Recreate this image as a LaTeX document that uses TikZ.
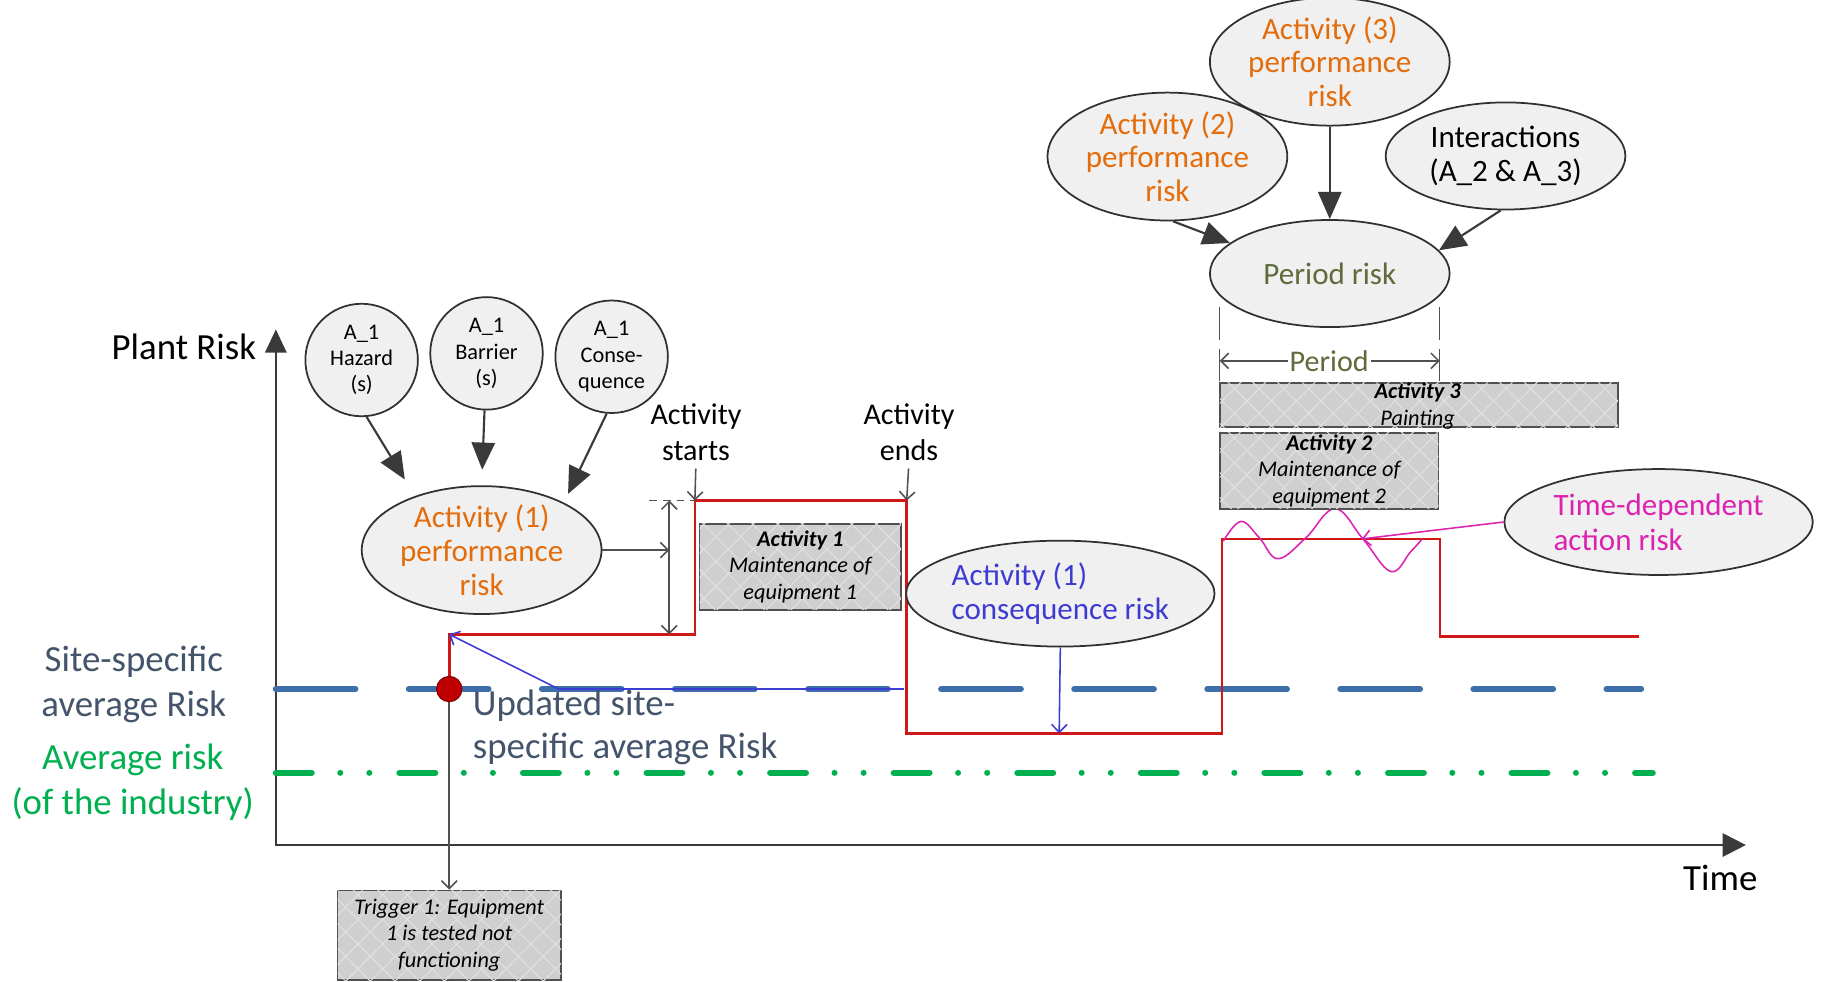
\documentclass[tikz,border=0pt]{standalone}
\usepackage{fontspec}
\setmainfont{Carlito}
\usetikzlibrary{arrows.meta,shapes.geometric,patterns.meta}
\definecolor{axisgray}{HTML}{3A3A3A}
\definecolor{edgegray}{HTML}{303030}
\definecolor{ellfill}{HTML}{F0F0F0}
\definecolor{boxgray}{HTML}{CFCFCF}
\definecolor{hatchc}{HTML}{E2E2E2}
\definecolor{boxedge}{HTML}{505050}
\definecolor{txtblue}{HTML}{44546A}
\definecolor{indgreen}{HTML}{00B050}
\definecolor{siteblue}{HTML}{3D6EAA}
\definecolor{riskred}{HTML}{D01818}
\definecolor{dotred}{HTML}{C00000}
\definecolor{orangetxt}{HTML}{E46C0A}
\definecolor{olivetxt}{HTML}{5F6B3A}
\definecolor{constxt}{HTML}{3C3CD2}
\definecolor{magtxt}{HTML}{DC22B0}
\definecolor{linegray}{HTML}{505050}
\newcommand\FS[2]{\fontsize{#1}{#2}\selectfont}
\begin{document}
\begin{tikzpicture}[x=0.6pt,y=-0.6pt,
  ell/.style={ellipse,draw=edgegray,line width=0.9pt,fill=ellfill,inner sep=0pt,
    minimum width=123.6pt,minimum height=55.2pt,align=center,font=\FS{16}{17.4}},
  wideell/.style={ell,minimum width=159pt,minimum height=54.6pt,align=left,font=\FS{16}{18}},
  circ/.style={circle,draw=edgegray,line width=0.9pt,fill=ellfill,inner sep=0pt,
    minimum size=58pt,align=center,font=\FS{11.5}{13.5}},
  actbox/.style={rectangle,draw=boxedge,line width=0.9pt,fill=boxgray,inner sep=0pt,
    postaction={pattern={Lines[angle=45,distance=9pt,line width=0.5pt]},pattern color=hatchc},
    postaction={pattern={Lines[angle=-45,distance=9pt,line width=0.5pt]},pattern color=hatchc}},
  boxtxt/.style={align=center,font=\FS{11.5}{13.8}\itshape,inner sep=0pt},
  biglbl/.style={align=center,font=\FS{19}{22.8},inner sep=0pt},
  midlbl/.style={align=center,font=\FS{15.5}{18.6},inner sep=0pt},
  dep/.style={draw=axisgray,line width=1.1pt,-{Triangle[length=14pt,width=12pt]}},
  barb/.style={-{Straight Barb[length=4pt,width=8pt]}},
  thinarr/.style={draw=linegray,line width=0.8pt,barb},
  axisline/.style={draw=axisgray,line width=1.2pt},
  siteline/.style={draw=siteblue,line width=3.2pt,line cap=round,dash pattern=on 41pt off 27.6pt},
  indline/.style={draw=indgreen,line width=3.1pt,line cap=round,
    dash pattern=on 18.5pt off 14.7pt on 0pt off 15pt on 0pt off 15.5pt},
  riskline/.style={draw=riskred,line width=1.3pt},
  blueline/.style={draw=constxt,line width=0.8pt},
  magline/.style={draw=magtxt,line width=0.8pt},
  tickline/.style={draw=linegray,line width=0.7pt}
]
\useasboundingbox (0,0) rectangle (1568,843);
\fill[white] (0,0) rectangle (1568,843);

% coordinates
\coordinate (ax0) at (237,726);
\coordinate (axY) at (237,283);
\coordinate (axX) at (1500,726);
\coordinate (s0) at (237,592);
\coordinate (s1) at (1410,592);
\coordinate (g0) at (237,664);
\coordinate (g1) at (1420,664);
\coordinate (r0) at (386,592);
\coordinate (r1) at (386,545);
\coordinate (r2) at (597,545);
\coordinate (r3) at (597,430);
\coordinate (r4) at (779,430);
\coordinate (r5) at (779,630);
\coordinate (r6) at (1050,630);
\coordinate (r7) at (1050,463);
\coordinate (r8) at (1237,463);
\coordinate (r9) at (1237,547);
\coordinate (r10) at (1408,547);
\coordinate (u0) at (480,592);
\coordinate (u1) at (777,592);
\coordinate (ctip) at (910,630);
\coordinate (mtip) at (1170,463);
\coordinate (t0) at (558,430);
\coordinate (d0) at (575,430);
\coordinate (d1) at (575,545);
\coordinate (dm) at (575,472.6);
\coordinate (pa1) at (1048,264);
\coordinate (pa2) at (1048,292);
\coordinate (pa3) at (1048,300);
\coordinate (pa4) at (1048,327);
\coordinate (pb1) at (1237,264);
\coordinate (pb2) at (1237,292);
\coordinate (pb3) at (1237,300);
\coordinate (pb4) at (1237,327);
\coordinate (pl) at (1048,310);
\coordinate (pr) at (1237,310);

% axes
\draw[axisline,{Triangle[length=12pt,width=11pt]}-{Triangle[length=12pt,width=12pt]}] (axY) -- (ax0) -- (axX);

% reference levels
\draw[siteline] (s0) -- (s1);
\draw[indline] (g0) -- (g1);

% risk profile
\draw[riskline] (r0) -- (r1) -- (r2) -- (r3) -- (r4) -- (r5) -- (r6) -- (r7) -- (r8) -- (r9) -- (r10);

% time dependent wave
\draw[magline] plot[smooth,tension=0.65] coordinates {(1051,465) (1066,448) (1082,462) (1098,480) (1122,462) (1147,437) (1171,463) (1195,491) (1212,474) (1222,463)};

% labels
\node[biglbl] (plantrisk) at (158,298) {Plant Risk};
\node[biglbl] (timelbl) at (1478,754) {Time};
\node[biglbl,text=txtblue] (sitelbl) at (115,588) {Site-specific\\average Risk};
\node[biglbl,text=indgreen] (indlbl) at (114,672) {Average risk\\(of the industry)};
\node[biglbl,text=txtblue,anchor=west,align=left,font=\FS{19}{22.2}] (updlbl) at (406,625) {Updated site-\\specific average Risk};
\node[midlbl] (startlbl) at (598,371) {Activity\\starts};
\node[midlbl] (endlbl) at (781,371) {Activity\\ends};

% circles
\node[circ] (haz) at (310.7,309.3) {A\_1\\Hazard\\(s)};
\node[circ] (bar) at (418,303.6) {A\_1\\Barrier\\(s)};
\node[circ] (con) at (525.5,306.5) {A\_1\\Conse-\\quence};

% ellipses
\node[ell,text=orangetxt] (perf1) at (413.8,472.6) {Activity (1)\\performance\\risk};
\node[wideell,text=constxt] (cons) at (911,510) {Activity (1)\\consequence risk};
\node[ell,text=olivetxt] (per) at (1142.5,235) {Period risk};
\node[ell,text=orangetxt] (perf2) at (1003,134.5) {Activity (2)\\performance\\risk};
\node[ell,text=orangetxt] (perf3) at (1142.5,53) {Activity (3)\\performance\\risk};
\node[ell] (inter) at (1293.5,134) {Interactions\\(A\_2 \& A\_3)};
\node[wideell,text=magtxt] (tdr) at (1425,448.5) {Time-dependent\\action risk};

% boxes
\node[actbox,minimum width=103.8pt,minimum height=44.4pt] (act1box) at (687.5,487) {};
\node[boxtxt] (act1txt) at (687.5,487) {{\bfseries Activity 1}\\Maintenance of\\equipment 1};
\node[actbox,minimum width=115.2pt,minimum height=46.2pt] (trigbox) at (386,803.5) {};
\node[boxtxt] (trigtxt) at (386,803.5) {Trigger 1: Equipment\\1 is tested not\\functioning};
\node[actbox,minimum width=205.2pt,minimum height=22.8pt] (act3box) at (1219,348) {};
\node[boxtxt] (act3txt) at (1218,349) {{\bfseries Activity 3}\\Painting};
\node[actbox,minimum width=112.8pt,minimum height=39pt] (act2box) at (1142,404.5) {};
\node[boxtxt] (act2txt) at (1142,404.5) {{\bfseries Activity 2}\\Maintenance of\\equipment 2};

% dependency arrows
\draw[dep,shorten >=10pt] (haz.-85) -- (perf1.141);
\draw[dep,shorten >=8pt] (bar.-92) -- (perf1.north);
\draw[dep,shorten >=5pt] (con.-95) -- (perf1.30);
\draw[dep] (perf2.-85) -- (per.163);
\draw[dep] (perf3.south) -- (per.north);
\draw[dep] (inter.-95) -- (per.12);

% activity markers
\draw[thinarr,shorten <=4pt] (startlbl.south) -- (r3);
\draw[thinarr,shorten <=4pt] (endlbl.south) -- (r4);
\draw[draw=linegray,line width=0.7pt,dash pattern=on 4pt off 3pt] (t0) -- (r3);
\draw[draw=linegray,line width=0.8pt,{Straight Barb[length=4pt,width=8pt]}-{Straight Barb[length=4pt,width=8pt]}] (d0) -- (d1);
\draw[thinarr] (perf1.east) -- (dm);

% period
\draw[tickline] (pa1) -- (pa2);
\draw[tickline] (pa3) -- (pa4);
\draw[tickline] (pb1) -- (pb2);
\draw[tickline] (pb3) -- (pb4);
\draw[draw=linegray,line width=0.8pt,{Straight Barb[length=4pt,width=8pt]}-{Straight Barb[length=4pt,width=8pt]}] (pl) -- (pr);
\node[midlbl,text=olivetxt,fill=white,inner sep=1pt] (periodlbl) at (1142,310) {Period};

% updated site-specific level
\draw[blueline] (u0) -- (u1);
\draw[blueline,barb] (u0) -- (r1);
\draw[blueline,barb] (cons.south) -- (ctip);
\draw[magline,barb] (tdr.west) -- (mtip);

% trigger
\draw[thinarr] (r0) -- (trigbox.north);
\node[circle,fill=dotred,draw=dotred!70!black,line width=0.6pt,minimum size=13pt,inner sep=0pt] (trig) at (r0) {};
\end{tikzpicture}
\end{document}
